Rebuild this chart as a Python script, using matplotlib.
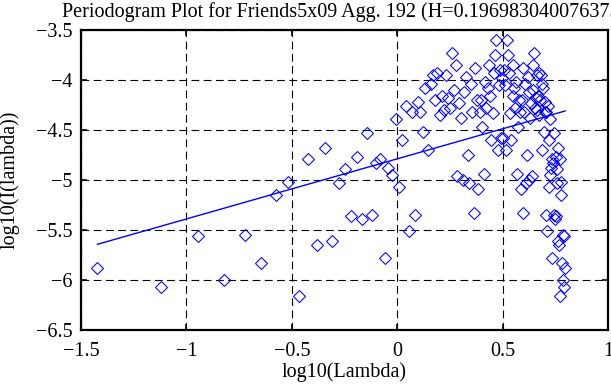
import matplotlib
matplotlib.use("Agg")
import matplotlib.pyplot as plt

# log10 of the Fourier frequencies (x)
log_lambda = [
    -1.422, -1.121, -0.945, -0.820, -0.723, -0.644, -0.577, -0.519, -0.468, -0.422,
    -0.381, -0.343, -0.308, -0.276, -0.246, -0.218, -0.192, -0.167, -0.143, -0.121,
    -0.100, -0.080, -0.060, -0.042, -0.024, -0.007, 0.009, 0.025, 0.040, 0.055,
    0.069, 0.083, 0.097, 0.110, 0.122, 0.134, 0.146, 0.158, 0.169, 0.180,
    0.191, 0.201, 0.212, 0.222, 0.231, 0.241, 0.250, 0.259, 0.268, 0.277,
    0.286, 0.294, 0.302, 0.310, 0.318, 0.326, 0.334, 0.341, 0.349, 0.356,
    0.363, 0.370, 0.377, 0.384, 0.391, 0.398, 0.404, 0.411, 0.417, 0.423,
    0.429, 0.435, 0.441, 0.447, 0.453, 0.459, 0.465, 0.470, 0.476, 0.481,
    0.487, 0.492, 0.497, 0.502, 0.507, 0.513, 0.518, 0.523, 0.527, 0.532,
    0.537, 0.542, 0.547, 0.551, 0.556, 0.560, 0.565, 0.569, 0.574, 0.578,
    0.582, 0.587, 0.591, 0.595, 0.599, 0.603, 0.607, 0.611, 0.615, 0.619,
    0.623, 0.627, 0.631, 0.635, 0.639, 0.643, 0.646, 0.650, 0.654, 0.657,
    0.661, 0.664, 0.668, 0.671, 0.675, 0.678, 0.682, 0.685, 0.689, 0.692,
    0.695, 0.699, 0.702, 0.705, 0.708, 0.712, 0.715, 0.718, 0.721, 0.724,
    0.727, 0.730, 0.733, 0.736, 0.739, 0.742, 0.745, 0.748, 0.751, 0.754,
    0.757, 0.760, 0.763, 0.765, 0.768, 0.771, 0.774, 0.777, 0.779, 0.782,
    0.785, 0.788, 0.790, 0.793, 0.796,
]

# log10 of the periodogram values (y)
log_periodogram = [
    -5.88, -6.07, -5.56, -6.00, -5.55, -5.83, -5.15, -5.02, -6.16, -4.79,
    -5.65, -4.68, -5.61, -5.03, -4.89, -5.36, -4.77, -5.39, -4.53, -5.35,
    -4.83, -4.79, -5.78, -4.88, -4.95, -4.39, -5.07, -4.60, -4.26, -5.51,
    -4.32, -5.35, -4.22, -4.32, -4.52, -4.08, -4.70, -4.04, -3.95, -4.20,
    -3.93, -4.35, -4.16, -4.30, -3.95, -4.18, -4.28, -3.73, -4.10, -3.85,
    -4.96, -4.23, -4.38, -5.00, -4.12, -3.97, -4.75, -5.03, -4.04, -4.32,
    -5.33, -3.88, -4.20, -5.09, -4.32, -4.20, -4.47, -4.94, -4.02, -4.28,
    -4.08, -3.85, -4.16, -4.60, -4.33, -3.93, -3.75, -3.60, -4.70, -4.05,
    -3.90, -4.58, -3.98, -4.58, -3.90, -4.05, -4.70, -3.60, -3.75, -3.93,
    -4.33, -4.60, -4.16, -3.85, -4.08, -4.28, -4.02, -4.94, -4.47, -4.20,
    -4.32, -5.09, -4.20, -3.88, -5.33, -4.32, -4.04, -5.03, -4.75, -3.97,
    -4.12, -5.00, -4.38, -4.23, -4.96, -3.85, -4.10, -3.73, -4.28, -4.18,
    -3.95, -4.30, -4.16, -4.35, -3.93, -4.20, -3.95, -4.04, -4.70, -4.08,
    -4.52, -4.32, -4.22, -5.35, -4.32, -5.51, -4.26, -4.60, -5.07, -4.39,
    -4.95, -4.88, -5.78, -4.79, -4.83, -5.35, -4.53, -5.39, -4.77, -5.36,
    -4.89, -5.03, -5.61, -4.68, -5.65, -4.79, -6.16, -5.02, -5.15, -5.83,
    -5.55, -6.00, -5.56, -6.07, -5.88,
]

# fitted regression line (endpoints)
fit_x = [-1.422, 0.796]
fit_y = [-5.643, -4.310]

title_text = "Periodogram Plot for Friends5x09 Agg. 192 (H=0.196983040076375)"
x_label = "log10(Lambda)"
y_label = "log10(I(lambda))"
xtick_values = [-1.5, -1, -0.5, 0, 0.5, 1]
xtick_labels = ["\u22121.5", "\u22121", "\u22120.5", "0", "0.5", "1"]
ytick_values = [-6.5, -6, -5.5, -5, -4.5, -4, -3.5]
ytick_labels = ["\u22126.5", "\u22126", "\u22125.5", "\u22125", "\u22124.5", "\u22124", "\u22123.5"]

plt.rcParams["font.family"] = ["Liberation Serif", "DejaVu Serif"]
FS = 14.5

fig = plt.figure(figsize=(6.11, 3.85), dpi=100)
ax = fig.add_axes([81 / 611, 1 - 330 / 385, (608 - 81) / 611, 300 / 385])

ax.plot(log_lambda, log_periodogram, linestyle="none", marker="D",
        markersize=6.6, markerfacecolor="none", markeredgecolor="#0000ff",
        markeredgewidth=0.75)
ax.plot(fit_x, fit_y, color="#0000ff", linewidth=1.0)

ax.set_xlim(-1.5, 1)
ax.set_ylim(-6.5, -3.5)
ax.set_xticks(xtick_values)
ax.set_xticklabels(xtick_labels)
ax.set_yticks(ytick_values)
ax.set_yticklabels(ytick_labels)

ax.grid(True, color="black", linestyle=(0, (7.0, 4.0)), linewidth=0.8)
for s in ax.spines.values():
    s.set_linewidth(1.6)
ax.tick_params(direction="in", length=4.5, width=1.2, top=True, right=True,
               labelsize=FS)
ax.tick_params(axis="y", pad=6)
ax.tick_params(axis="x", pad=8.5)

ax.set_xlabel(x_label, fontsize=FS, labelpad=1)
ax.set_ylabel(y_label, fontsize=FS, labelpad=12)
ax.set_title(title_text, fontsize=FS, pad=9)

fig.savefig("out.png", dpi=100)
